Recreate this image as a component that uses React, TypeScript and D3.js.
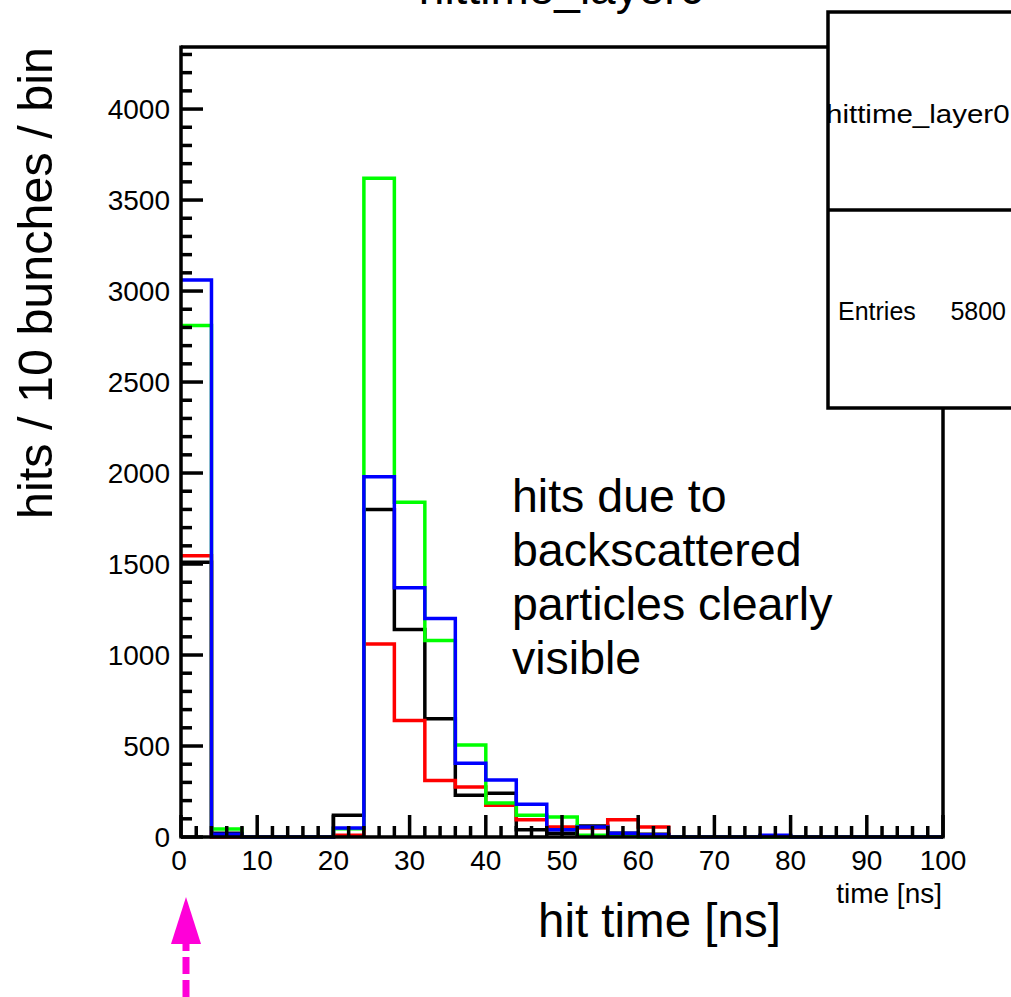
import React from "react";
import * as d3 from "d3";

const binEdges = d3.range(0, 101, 4);
const blackCounts = [1510, 20, 0, 0, 0, 120, 1800, 1140, 650, 230, 240, 40, 20, 60, 20, 15, 0, 0, 0, 5, 0, 0, 0, 0, 0];
const redCounts = [1545, 0, 0, 0, 0, 10, 1060, 640, 310, 275, 175, 95, 55, 50, 95, 55, 0, 0, 0, 0, 0, 0, 0, 0, 0];
const greenCounts = [2810, 44, 0, 0, 0, 45, 3620, 1840, 1080, 505, 187, 120, 110, 10, 10, 0, 0, 0, 0, 0, 0, 0, 0, 0, 0];
const blueCounts = [3060, 15, 0, 0, 0, 50, 1980, 1370, 1200, 405, 313, 180, 40, 55, 20, 12, 0, 0, 0, 10, 0, 0, 0, 0, 0];
const seriesColors = ["#000000", "#ff0000", "#00ff00", "#0000ff"];
const xMajorTicks = [0, 10, 20, 30, 40, 50, 60, 70, 80, 90, 100];
const yMajorTicks = [0, 500, 1000, 1500, 2000, 2500, 3000, 3500, 4000];
const annotationLines = ["hits due to", "backscattered", "particles clearly", "visible"];

const FONT = "'Liberation Sans', Arial, sans-serif";

export default function App() {
  const left = 181, right = 943, top = 47, bottom = 837;
  const x = d3.scaleLinear().domain([0, 100]).range([left, right]);
  const y = d3.scaleLinear().domain([0, 4341]).range([bottom, top]);

  const series = [blackCounts, redCounts, greenCounts, blueCounts];
  const stepPath = (counts: number[]) => {
    const pts: [number, number][] = counts.map((c, i) => [binEdges[i], c]);
    pts.push([100, counts[counts.length - 1]]);
    return d3
      .line<[number, number]>()
      .x((d) => x(d[0]))
      .y((d) => y(d[1]))
      .curve(d3.curveStepAfter)(pts) as string;
  };

  const xMinor = d3.range(0, 101, 2).filter((v) => v % 10 !== 0);
  const yMinor = d3.range(0, 4341, 100).filter((v) => v % 500 !== 0);

  return (
    <svg
      width={1011}
      height={997}
      style={{ position: "absolute", left: 0, top: 0, background: "#fff" }}
      fontFamily={FONT}
    >
      <rect x={0} y={0} width={1011} height={997} fill="#fff" />
      {/* title, mostly cut off as in the original */}
      <text x={562} y={4} fontSize={46} textAnchor="middle" fill="#000">
        hittime_layer0
      </text>

      {/* histograms */}
      {series.map((s, i) => (
        <path key={i} d={stepPath(s)} fill="none" stroke={seriesColors[i]} strokeWidth={3.5} />
      ))}

      {/* frame */}
      <line x1={left} y1={top} x2={830} y2={top} stroke="#000" strokeWidth={3.5} />
      <line x1={left} y1={top - 1.5} x2={left} y2={bottom + 1.5} stroke="#000" strokeWidth={3.5} />
      <line x1={left} y1={bottom} x2={right} y2={bottom} stroke="#000" strokeWidth={3.5} />
      <line x1={right} y1={400} x2={right} y2={bottom + 1.5} stroke="#000" strokeWidth={3.5} />

      {/* x ticks */}
      {xMajorTicks.map((t) => (
        <line key={"xM" + t} x1={x(t)} x2={x(t)} y1={bottom} y2={bottom - 22} stroke="#000" strokeWidth={3.5} />
      ))}
      {xMinor.map((t) => (
        <line key={"xm" + t} x1={x(t)} x2={x(t)} y1={bottom} y2={bottom - 11} stroke="#000" strokeWidth={3.5} />
      ))}
      {xMajorTicks.map((t) => (
        <text key={"xl" + t} x={x(t) - (t === 0 ? 2 : 0)} y={870} fontSize={28} textAnchor="middle" fill="#000">
          {t}
        </text>
      ))}

      {/* y ticks */}
      {yMajorTicks.map((t) => (
        <line key={"yM" + t} x1={left} x2={left + 22} y1={y(t)} y2={y(t)} stroke="#000" strokeWidth={3.5} />
      ))}
      {yMinor.map((t) => (
        <line key={"ym" + t} x1={left} x2={left + 11} y1={y(t)} y2={y(t)} stroke="#000" strokeWidth={3.5} />
      ))}
      {yMajorTicks.map((t) => (
        <text key={"yl" + t} x={170} y={y(t)} dy="0.36em" fontSize={28} textAnchor="end" fill="#000">
          {t}
        </text>
      ))}

      {/* axis titles */}
      <text x={942} y={903} fontSize={28} textAnchor="end" fill="#000">
        time [ns]
      </text>
      <text x={538} y={937} fontSize={47.5} fill="#000">
        hit time [ns]
      </text>
      <text
        transform={`translate(52, ${283}) rotate(-90)`}
        fontSize={48.5}
        textAnchor="middle"
        fill="#000"
      >
        hits / 10 bunches / bin
      </text>

      {/* annotation */}
      {annotationLines.map((l, i) => (
        <text key={l} x={512} y={512 + i * 54} fontSize={46.5} fill="#000">
          {l}
        </text>
      ))}

      {/* stats box */}
      <rect x={828} y={12} width={300} height={396} fill="#fff" stroke="#000" strokeWidth={3.5} />
      <line x1={828} y1={210} x2={1011} y2={210} stroke="#000" strokeWidth={3.5} />
      <text
        transform="translate(826, 123) scale(1.18, 1)"
        fontSize={25}
        fill="#000"
      >
        hittime_layer0
      </text>
      <text x={838} y={320} fontSize={25} fill="#000">
        Entries
      </text>
      <text x={1006} y={320} fontSize={25} textAnchor="end" fill="#000">
        5800
      </text>

      {/* magenta arrow */}
      <line x1={186} y1={997} x2={186} y2={944} stroke="#ff00d8" strokeWidth={7} strokeDasharray="17 6" />
      <path d="M186,897 L171,944 L201,944 Z" fill="#ff00d8" />
    </svg>
  );
}
